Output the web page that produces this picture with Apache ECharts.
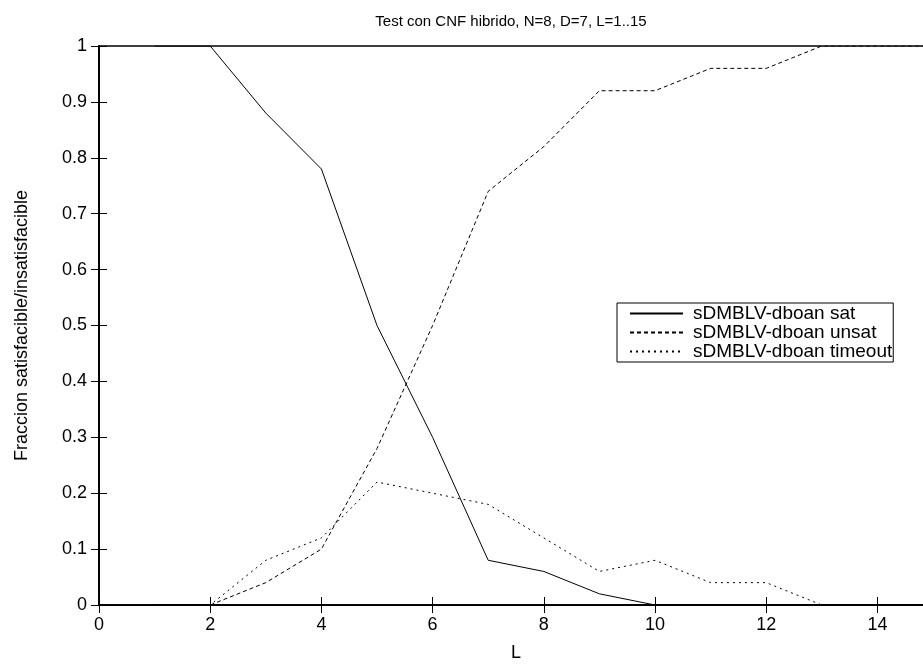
<!DOCTYPE html>
<html>
<head>
<meta charset="utf-8">
<script src="https://cdn.jsdelivr.net/npm/echarts@6/dist/echarts.min.js"></script>
<style>
  html, body { margin: 0; padding: 0; background: #fff; }
  #chart { width: 923px; height: 665px; }
</style>
</head>
<body>
<div id="chart"></div>
<script>
// L values (x) and the fraction of instances in each outcome
const lValues = [1, 2, 3, 4, 5, 6, 7, 8, 9, 10, 11, 12, 13, 14, 15];
const satValues = [1, 1, 0.88, 0.78, 0.5, 0.3, 0.08, 0.06, 0.02, 0, 0, 0, 0, 0, 0];
const unsatValues = [0, 0, 0.04, 0.1, 0.28, 0.5, 0.74, 0.82, 0.92, 0.92, 0.96, 0.96, 1, 1, 1];
const timeoutValues = [0, 0, 0.08, 0.12, 0.22, 0.2, 0.18, 0.12, 0.06, 0.08, 0.04, 0.04, 0, 0, 0];
const seriesNames = ['sDMBLV-dboan sat', 'sDMBLV-dboan unsat', 'sDMBLV-dboan timeout'];

const FONT = 'Liberation Sans, Arial, Helvetica, sans-serif';
const pairs = vals => lValues.map((l, i) => [l, vals[i]]);

const chart = echarts.init(document.getElementById('chart'), null, { renderer: 'canvas' });

const axisCommon = {
  axisLine: { show: true, lineStyle: { color: '#000', width: 1.5 } },
  axisTick: { show: true, inside: true, length: 8, lineStyle: { color: '#000', width: 1 } },
  splitLine: { show: false }
};

chart.setOption({
  animation: false,
  backgroundColor: '#fff',
  title: {
    text: 'Test con CNF hibrido, N=8, D=7, L=1..15',
    left: 506,
    textAlign: 'center',
    top: 9,
    textStyle: { fontFamily: FONT, fontSize: 15, fontWeight: 'normal', color: '#000' }
  },
  // the plot frame runs a little past the right edge of the page
  grid: {
    left: 99, top: 46, width: 834, bottom: 60,
    outerBoundsMode: 'none',
    containLabel: false,
    show: true, borderColor: '#000', borderWidth: 1.5, backgroundColor: 'transparent'
  },
  legend: {
    data: seriesNames,
    orient: 'vertical',
    left: 617,
    top: 303,
    itemWidth: 53,
    itemHeight: 14,
    itemGap: 0,
    padding: [1, 1, 1, 12],
    borderColor: '#000',
    borderWidth: 1,
    backgroundColor: '#fff',
    itemStyle: { opacity: 0 },
    textStyle: { fontFamily: FONT, fontSize: 19, lineHeight: 17, color: '#000', padding: [0, 0, 0, 5] },
    selectedMode: false
  },
  xAxis: [
    Object.assign({
      type: 'value', min: 0, max: 15, interval: 2,
      name: 'L', nameLocation: 'middle', nameGap: 39,
      nameTextStyle: { fontFamily: FONT, fontSize: 18, color: '#000' },
      axisLabel: { fontFamily: FONT, fontSize: 18, color: '#000', margin: 11,
        showMaxLabel: false }
    }, axisCommon),
    Object.assign({
      type: 'value', min: 0, max: 15, interval: 2, position: 'top',
      axisLabel: { show: false }
    }, axisCommon)
  ],
  yAxis: [
    Object.assign({
      type: 'value', min: 0, max: 1, interval: 0.1,
      name: 'Fraccion satisfacible/insatisfacible', nameLocation: 'middle', nameGap: 68,
      nameTextStyle: { fontFamily: FONT, fontSize: 18, color: '#000' },
      axisLabel: { fontFamily: FONT, fontSize: 18, color: '#000', margin: 12,
        formatter: v => String(Math.round(v * 10) / 10) }
    }, axisCommon),
    Object.assign({
      type: 'value', min: 0, max: 1, interval: 0.1, position: 'right',
      axisLabel: { show: false }
    }, axisCommon)
  ],
  series: [
    {
      name: seriesNames[0], type: 'line', data: pairs(satValues),
      symbol: 'none', color: '#000',
      lineStyle: { color: '#000', width: 1, type: 'solid' }
    },
    {
      name: seriesNames[1], type: 'line', data: pairs(unsatValues),
      symbol: 'none', color: '#000',
      lineStyle: { color: '#000', width: 1, type: [4, 3] }
    },
    {
      name: seriesNames[2], type: 'line', data: pairs(timeoutValues),
      symbol: 'none', color: '#000',
      lineStyle: { color: '#000', width: 1, type: [2, 4] }
    }
  ]
});
</script>
</body>
</html>
